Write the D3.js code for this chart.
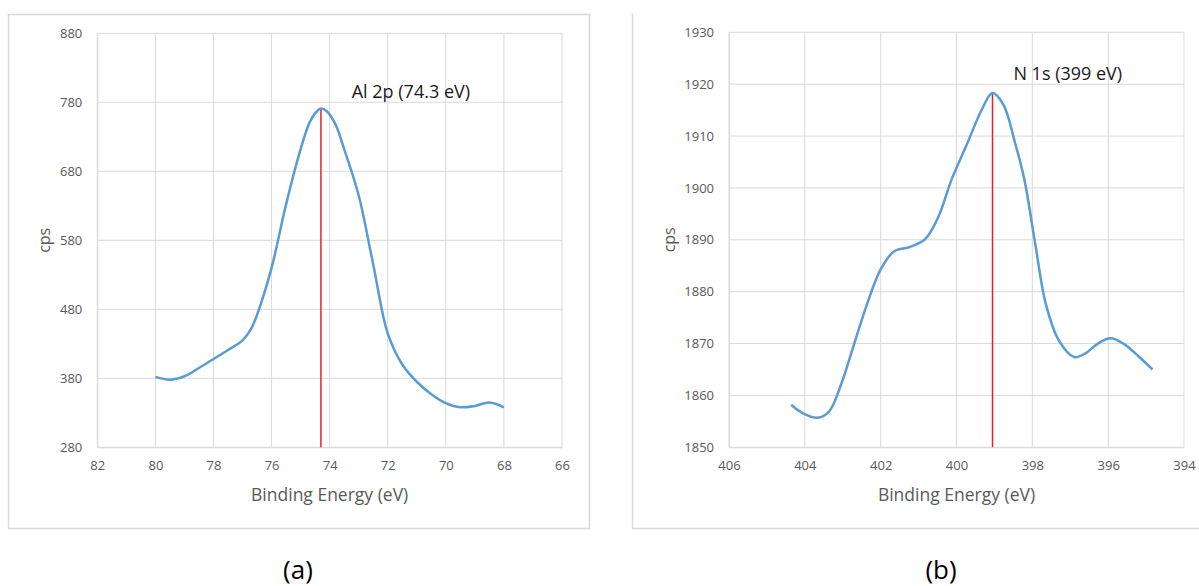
<!DOCTYPE html>
<html>
<head>
<meta charset="utf-8">
<script src="https://cdn.jsdelivr.net/npm/d3@7"></script>
<style>
  body { margin: 0; background: #fff; }
  svg { display: block; }
  .tick text { font-family: "Open Sans", sans-serif; font-size: 13px; fill: #595959; }
</style>
</head>
<body>
<div id="chart"></div>
<script>
// Al 2p spectrum (panel a)
var alEnergy = [80.0, 79.5, 79.0, 78.5, 78.0, 77.5, 77.0, 76.7, 76.5, 76.0, 75.5, 75.0, 74.7, 74.5, 74.3,
                74.1, 73.8, 73.5, 73.0, 72.5, 72.0, 71.5, 71.0, 70.5, 70.0, 69.5, 69.0, 68.5, 68.0];
var alCps = [382, 378, 383, 395, 408, 421, 435, 452, 472, 540, 632, 712, 750, 764, 771,
             767, 748, 712, 645, 545, 445, 400, 375, 357, 344, 338, 340, 345, 338];
var alXTicks = [82, 80, 78, 76, 74, 72, 70, 68, 66];
var alYTicks = [280, 380, 480, 580, 680, 780, 880];

// N 1s spectrum (panel b)
var nEnergy = [404.36, 404.06, 403.66, 403.36, 403.05, 402.7, 402.35, 402.0, 401.64, 401.24, 400.83, 400.48,
               400.13, 399.72, 399.32, 399.05, 398.76, 398.46, 398.21, 397.91, 397.65, 397.3, 396.9, 396.6,
               396.29, 395.94, 395.58, 395.18, 394.83];
var nCps = [1858.2, 1856.6, 1855.7, 1856.9, 1862, 1869.9, 1877.8, 1884.3, 1887.8, 1888.6, 1890.1, 1894.4,
            1901.6, 1908.5, 1915.3, 1918.3, 1916, 1908.8, 1901.6, 1888.6, 1877.8, 1870.6, 1867.4, 1868.1,
            1869.9, 1871, 1869.9, 1867.4, 1865];
var nXTicks = [406, 404, 402, 400, 398, 396, 394];
var nYTicks = [1850, 1860, 1870, 1880, 1890, 1900, 1910, 1920, 1930];

// peak markers and labels
var peakText = ["Al 2p (74.3 eV)", "N 1s (399 eV)"];
var peakEnergy = [74.3, 399.05];
var peakCps = [771, 1918.3];
var labelEnergy = [73.24, 398.5];
var labelCps = [786, 1920.8];
var panelNames = ["(a)", "(b)"];

var W = 1199, H = 586;
var svg = d3.select("#chart").append("svg").attr("width", W).attr("height", H);

function drawPanel(p)
{
    var x = d3.scaleLinear().domain(p.xDomain).range([p.left, p.right]);
    var y = d3.scaleLinear().domain(p.yDomain).range([p.bottom, p.top]);
    var g = svg.append("g");

    // vertical grid
    g.append("g")
        .selectAll("line").data(p.xTicks).enter().append("line")
        .attr("x1", function(d){ return x(d); }).attr("x2", function(d){ return x(d); })
        .attr("y1", p.top).attr("y2", p.bottom)
        .attr("stroke", "#d9d9d9").attr("stroke-width", 1);
    // horizontal grid
    g.append("g")
        .selectAll("line").data(p.yTicks).enter().append("line")
        .attr("x1", p.left).attr("x2", p.right)
        .attr("y1", function(d){ return y(d); }).attr("y2", function(d){ return y(d); })
        .attr("stroke", "#d9d9d9").attr("stroke-width", 1);

    var xAxis = g.append("g")
        .attr("transform", "translate(0," + p.bottom + ")")
        .call(d3.axisBottom(x).tickValues(p.xTicks).tickFormat(d3.format("d")).tickSize(0).tickPadding(13));
    xAxis.select(".domain").attr("stroke", "#d9d9d9");

    var yAxis = g.append("g")
        .attr("transform", "translate(" + p.left + ",0)")
        .call(d3.axisLeft(y).tickValues(p.yTicks).tickFormat(d3.format("d")).tickSize(0).tickPadding(15));
    yAxis.select(".domain").attr("stroke", "#d9d9d9");

    // peak marker
    g.append("line")
        .attr("x1", x(p.peakX)).attr("x2", x(p.peakX))
        .attr("y1", y(p.peakY)).attr("y2", p.bottom)
        .attr("stroke", "#e8202a").attr("stroke-width", 1.5);

    var line = d3.line()
        .x(function(d){ return x(d[0]); })
        .y(function(d){ return y(d[1]); })
        .curve(d3.curveCatmullRom.alpha(0.5));
    g.append("path")
        .datum(d3.zip(p.xs, p.ys))
        .attr("d", line)
        .attr("fill", "none")
        .attr("stroke", "#5b9bd5")
        .attr("stroke-width", 2.5)
        .attr("stroke-linejoin", "round");

    g.append("text")
        .attr("x", x(p.labelX)).attr("y", y(p.labelY))
        .attr("font-family", "Open Sans, sans-serif").attr("font-size", 18)
        .attr("fill", "#1a1a1a")
        .text(p.label);

    g.append("text")
        .attr("x", (p.left + p.right) / 2).attr("y", 501)
        .attr("text-anchor", "middle")
        .attr("font-family", "Open Sans, sans-serif").attr("font-size", 17.5)
        .attr("fill", "#595959")
        .text("Binding Energy (eV)");

    g.append("text")
        .attr("transform", "translate(" + p.cpsX + "," + ((p.top + p.bottom) / 2) + ") rotate(-90)")
        .attr("text-anchor", "middle").attr("dy", "0.35em")
        .attr("font-family", "Open Sans, sans-serif").attr("font-size", 16)
        .attr("fill", "#595959")
        .text("cps");

    g.append("text")
        .attr("x", p.nameX).attr("y", 579)
        .attr("text-anchor", "middle")
        .attr("font-family", "Open Sans, sans-serif").attr("font-size", 26)
        .attr("fill", "#000")
        .text(p.name);
}

// panel frames
svg.append("rect").attr("x", 8.5).attr("y", 14.5).attr("width", 581).attr("height", 514)
    .attr("fill", "none").attr("stroke", "#d9d9d9").attr("stroke-width", 1.5);
svg.append("path").attr("d", "M632.5,13.5 V528.5 H1199")
    .attr("fill", "none").attr("stroke", "#d9d9d9").attr("stroke-width", 1.5);

drawPanel({
    xDomain: [82, 66], yDomain: [280, 880],
    left: 97.3, right: 562, top: 33.3, bottom: 447.3,
    xTicks: alXTicks, yTicks: alYTicks, xs: alEnergy, ys: alCps,
    peakX: peakEnergy[0], peakY: peakCps[0],
    label: peakText[0], labelX: labelEnergy[0], labelY: labelCps[0],
    cpsX: 44, name: panelNames[0], nameX: 298
});
drawPanel({
    xDomain: [406, 394], yDomain: [1850, 1930],
    left: 729, right: 1184, top: 32.3, bottom: 447.3,
    xTicks: nXTicks, yTicks: nYTicks, xs: nEnergy, ys: nCps,
    peakX: peakEnergy[1], peakY: peakCps[1],
    label: peakText[1], labelX: labelEnergy[1], labelY: labelCps[1],
    cpsX: 669, name: panelNames[1], nameX: 941
});
</script>
</body>
</html>
